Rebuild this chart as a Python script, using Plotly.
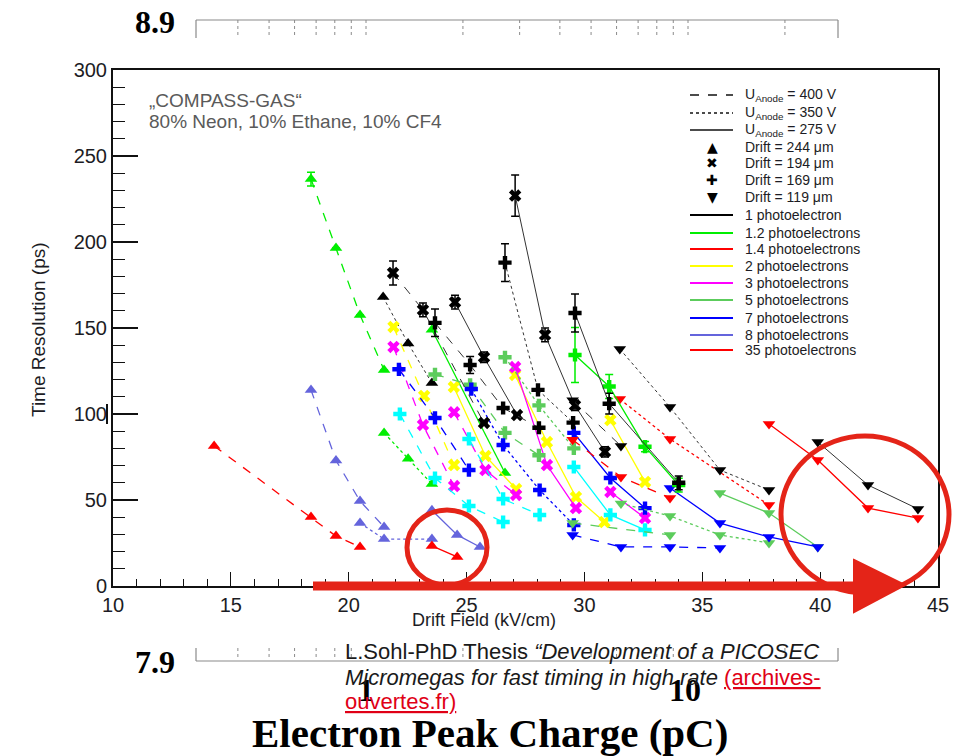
import math
import plotly.graph_objects as go

# ---------------- data ----------------
# Drift 244 um (triangle up)
t_grn_dash_x = [18.4, 19.46, 20.48, 21.5]
t_grn_dash_y = [236.6, 196.5, 157.6, 125.6]
t_grn_dash_e = [4, 0, 0, 0]
t_grn_dot_x = [21.5, 22.52, 23.53]
t_grn_dot_y = [89, 74, 59.3]
t_grn_sol_x = [23.53, 26.63]
t_grn_sol_y = [149, 65.7]
t_pur_dash_x = [18.4, 19.46, 20.48, 21.5]
t_pur_dash_y = [114, 73, 49.4, 34.3]
t_pur_dot_x = [20.48, 21.5, 23.53]
t_pur_dot_y = [36.6, 27.3, 27.3]
t_pur_sol_x = [23.53, 24.6, 25.57]
t_pur_sol_y = [44, 29.7, 22.7]
t_red_dash_x = [14.29, 18.4, 19.46, 20.48]
t_red_dash_y = [81.4, 40.1, 29, 22.7]
t_red_sol_x = [23.53, 24.6]
t_red_sol_y = [23.3, 16.9]
t_blk_dot_x = [21.46, 22.52, 23.53]
t_blk_dot_y = [168, 141, 118]

# Drift 194 um (x)
x_blk_dash_x = [21.88, 23.15, 25.74]
x_blk_dash_y = [182, 160.5, 94.8]
x_blk_dash_e = [7, 4, 0]
x_blk_sol1_x = [24.51, 25.74, 27.14]
x_blk_sol1_y = [165, 133, 99.4]
x_blk_sol1_e = [4, 3, 0]
x_blk_sol2_x = [27.06, 28.33, 29.6, 30.87]
x_blk_sol2_y = [227, 146, 105, 78]
x_blk_sol2_e = [12, 4, 3, 3]
x_yel_dash_x = [21.9, 23.2, 24.47]
x_yel_dash_y = [150.6, 110.5, 70.3]
x_yel_sol1_x = [24.46, 25.8, 27.1]
x_yel_sol1_y = [115.7, 75.6, 56.4]
x_yel_sol2_x = [27.06, 28.41, 29.64, 30.85]
x_yel_sol2_y = [122.7, 83.7, 51.7, 37.2]
x_yel_sol3_x = [31.1, 32.57]
x_yel_sol3_y = [96.5, 60.5]
x_mag_dash1_x = [21.9, 23.15, 24.47]
x_mag_dash1_y = [139, 93.6, 58.1]
x_mag_dash2_x = [24.47, 25.8, 27.1]
x_mag_dash2_y = [101, 67.4, 52.9]
x_mag_sol1_x = [27.06, 28.41, 29.64]
x_mag_sol1_y = [127.3, 70.3, 45.3]
x_mag_sol2_x = [31.1, 32.57]
x_mag_sol2_y = [54.7, 39.5]

# Drift 169 um (+)
p_blk_dash_x = [23.66, 25.15, 26.55, 28.07]
p_blk_dash_y = [153, 128.5, 103.5, 92]
p_blk_dash_e = [8, 5, 0, 0]
p_blk_dot_x = [26.63, 28.03, 29.52]
p_blk_dot_y = [188, 114, 95]
p_blk_dot_e = [11, 0, 0]
p_blk_sol_x = [29.6, 31.05, 34.0]
p_blk_sol_y = [158.7, 106, 60]
p_blk_sol_e = [11, 6, 4]
p_grn_sol_x = [29.6, 31.05, 32.57, 34.0]
p_grn_sol_y = [134.3, 116, 81, 58.7]
p_grn_sol_e = [16, 7, 3, 4]
p_mgr_dot_x = [26.63, 28.07, 29.55]
p_mgr_dot_y = [133, 105, 80]
p_mgr_dash_x = [23.66, 25.15, 26.63, 28.07]
p_mgr_dash_y = [123, 117, 89, 76]
p_blu_dash_x = [22.13, 23.66, 25.1]
p_blu_dash_y = [126, 97.7, 67.4]
p_blu_dot_x = [25.2, 26.55, 28.1, 29.55]
p_blu_dot_y = [114.5, 82, 55.8, 35.5]
p_blu_sol_x = [29.55, 31.1, 32.57]
p_blu_sol_y = [89, 62.8, 45.3]
p_cyn_dash1_x = [22.17, 23.66, 25.1, 26.55]
p_cyn_dash1_y = [100, 62.8, 46.5, 37.2]
p_cyn_dash2_x = [25.1, 26.55, 28.1]
p_cyn_dash2_y = [85.5, 50.6, 41.3]
p_cyn_sol_x = [29.55, 31.1, 32.57]
p_cyn_sol_y = [69.2, 41.3, 32.6]

# Drift 119 um (triangle down)
d_blk_dot_x = [31.5, 33.63, 35.75, 37.83]
d_blk_dot_y = [137.8, 104, 67.4, 55.8]
d_blk_sol_x = [39.9, 42.03, 44.15]
d_blk_sol_y = [83.7, 58.7, 44.8]
d_blk_dash_x = [29.5, 31.55]
d_blk_dash_y = [108, 81.4]
d_red_dot_x = [31.5, 33.63, 37.83]
d_red_dot_y = [108.7, 85.5, 47.1]
d_red_dash_x = [29.5, 31.55, 33.63]
d_red_dash_y = [85, 63.4, 51.2]
d_red_sol_x = [37.83, 39.9, 42.03, 44.15]
d_red_sol_y = [94.2, 73.3, 45.3, 39.5]
d_blu_sol_x = [33.63, 35.75, 37.83, 39.9]
d_blu_sol_y = [57, 36.6, 28.5, 22.7]
d_blu_dash_x = [29.5, 31.55, 33.63, 35.75]
d_blu_dash_y = [29.7, 22.7, 22.7, 22.1]
d_mgr_dot_x = [31.55, 33.63, 35.75, 37.83]
d_mgr_dot_y = [48, 40.7, 29.7, 25]
d_mgr_dash_x = [29.5, 33.63]
d_mgr_dash_y = [36.6, 29.7]
d_mgr_sol_x = [35.75, 37.83, 39.9]
d_mgr_sol_y = [54, 42.4, 22.7]

x_ticks = [10, 15, 20, 25, 30, 35, 40, 45]
y_ticks = [0, 50, 100, 150, 200, 250, 300]
legend_volt = ["U<sub>Anode</sub> = 400 V", "U<sub>Anode</sub> = 350 V", "U<sub>Anode</sub> = 275 V"]
legend_drift = ["Drift = 244 μm", "Drift = 194 μm", "Drift = 169 μm", "Drift = 119 μm"]
legend_pe = ["1 photoelectron", "1.2 photoelectrons", "1.4 photoelectrons", "2 photoelectrons",
             "3 photoelectrons", "5 photoelectrons", "7 photoelectrons", "8 photoelectrons",
             "35 photoelectrons"]
log_grid = [0.4, 0.5, 0.6, 0.7, 0.8, 0.9, 1, 2, 3, 4, 5, 6, 7, 8, 9, 10, 20]

# ---------------- styles ----------------
BLK = "#000000"; GRN = "#00ee00"; RED = "#ff0000"; YEL = "#ffff00"; MAG = "#ff00ff"
MGR = "#5ccc5c"; BLU = "#0000ff"; PUR = "#6464dc"; CYN = "#00ffff"
pe_colors = [BLK, GRN, RED, YEL, MAG, MGR, BLU, PUR, RED]

series = [
    (t_grn_dash_x, t_grn_dash_y, t_grn_dash_e, GRN, "triangle-up", "dash"),
    (t_grn_dot_x, t_grn_dot_y, None, GRN, "triangle-up", "dot"),
    (t_grn_sol_x, t_grn_sol_y, None, GRN, "triangle-up", "solid"),
    (t_pur_dash_x, t_pur_dash_y, None, PUR, "triangle-up", "dash"),
    (t_pur_dot_x, t_pur_dot_y, None, PUR, "triangle-up", "dot"),
    (t_pur_sol_x, t_pur_sol_y, None, PUR, "triangle-up", "solid"),
    (t_red_dash_x, t_red_dash_y, None, RED, "triangle-up", "dash"),
    (t_red_sol_x, t_red_sol_y, None, RED, "triangle-up", "solid"),
    (t_blk_dot_x, t_blk_dot_y, None, BLK, "triangle-up", "dot"),
    (x_yel_dash_x, x_yel_dash_y, None, YEL, "x", "dash"),
    (x_yel_sol1_x, x_yel_sol1_y, None, YEL, "x", "solid"),
    (x_yel_sol2_x, x_yel_sol2_y, None, YEL, "x", "solid"),
    (x_yel_sol3_x, x_yel_sol3_y, None, YEL, "x", "solid"),
    (x_mag_dash1_x, x_mag_dash1_y, None, MAG, "x", "dash"),
    (x_mag_dash2_x, x_mag_dash2_y, None, MAG, "x", "dash"),
    (x_mag_sol1_x, x_mag_sol1_y, None, MAG, "x", "solid"),
    (x_mag_sol2_x, x_mag_sol2_y, None, MAG, "x", "solid"),
    (p_mgr_dot_x, p_mgr_dot_y, None, MGR, "cross", "dot"),
    (p_mgr_dash_x, p_mgr_dash_y, None, MGR, "cross", "dash"),
    (p_blu_dash_x, p_blu_dash_y, None, BLU, "cross", "dash"),
    (p_blu_dot_x, p_blu_dot_y, None, BLU, "cross", "dot"),
    (p_blu_sol_x, p_blu_sol_y, None, BLU, "cross", "solid"),
    (p_cyn_dash1_x, p_cyn_dash1_y, None, CYN, "cross", "dash"),
    (p_cyn_dash2_x, p_cyn_dash2_y, None, CYN, "cross", "dash"),
    (p_cyn_sol_x, p_cyn_sol_y, None, CYN, "cross", "solid"),
    (d_mgr_dot_x, d_mgr_dot_y, None, MGR, "triangle-down", "dot"),
    (d_mgr_dash_x, d_mgr_dash_y, None, MGR, "triangle-down", "dash"),
    (d_mgr_sol_x, d_mgr_sol_y, None, MGR, "triangle-down", "solid"),
    (d_blu_sol_x, d_blu_sol_y, None, BLU, "triangle-down", "solid"),
    (d_blu_dash_x, d_blu_dash_y, None, BLU, "triangle-down", "dash"),
    (d_red_dot_x, d_red_dot_y, None, RED, "triangle-down", "dot"),
    (d_red_dash_x, d_red_dash_y, None, RED, "triangle-down", "dash"),
    (d_red_sol_x, d_red_sol_y, None, RED, "triangle-down", "solid"),
    (p_grn_sol_x, p_grn_sol_y, p_grn_sol_e, GRN, "cross", "solid"),
    (x_blk_dash_x, x_blk_dash_y, x_blk_dash_e, BLK, "x", "dash"),
    (x_blk_sol1_x, x_blk_sol1_y, x_blk_sol1_e, BLK, "x", "solid"),
    (x_blk_sol2_x, x_blk_sol2_y, x_blk_sol2_e, BLK, "x", "solid"),
    (p_blk_dash_x, p_blk_dash_y, p_blk_dash_e, BLK, "cross", "dash"),
    (p_blk_dot_x, p_blk_dot_y, p_blk_dot_e, BLK, "cross", "dot"),
    (p_blk_sol_x, p_blk_sol_y, p_blk_sol_e, BLK, "cross", "solid"),
    (d_blk_dot_x, d_blk_dot_y, None, BLK, "triangle-down", "dot"),
    (d_blk_sol_x, d_blk_sol_y, None, BLK, "triangle-down", "solid"),
    (d_blk_dash_x, d_blk_dash_y, None, BLK, "triangle-down", "dash"),
]

fig = go.Figure()
for xs, ys, es, col, sym, dash in series:
    lw = 1.0 if col == BLK else 1.3
    lcol = "#333333" if col == BLK else col
    tr = go.Scatter(x=xs, y=ys, mode="lines+markers",
                    line=dict(color=lcol, width=lw, dash=dash),
                    marker=dict(symbol=sym, size=11, color=col, line=dict(width=0)),
                    hoverinfo="x+y")
    if es is not None:
        tr.error_y = dict(type="data", array=es, color=col, thickness=1.5, width=4)
    fig.add_trace(tr)

# ---------------- layout ----------------
L, R, T, B = 113, 938, 70, 586
W, H = 968, 756
def X(px):
    return (px - L) / (R - L)
def Y(py):
    return (B - py) / (B - T)

SANS = "Liberation Sans, Arial, sans-serif"
SERIF = "Liberation Serif, Times New Roman, serif"
TXT = "#1c1c24"

fig.update_layout(
    width=W, height=H, showlegend=False,
    margin=dict(l=L, r=W - R, t=T, b=H - B, pad=0),
    paper_bgcolor="white", plot_bgcolor="white",
    xaxis=dict(range=[10, 45], tickmode="array", tickvals=x_ticks,
               ticks="inside", ticklen=14, tickwidth=1.3, tickcolor="#111",
               minor=dict(dtick=1, ticks="inside", ticklen=7, tickwidth=1, tickcolor="#111"),
               showline=True, linecolor="#111", linewidth=1.5, mirror=True,
               showgrid=False, zeroline=False,
               tickfont=dict(family=SANS, size=20, color=TXT)),
    yaxis=dict(range=[0, 300], tickmode="array", tickvals=y_ticks,
               ticks="inside", ticklen=25, tickwidth=1.5, tickcolor="#111",
               minor=dict(dtick=10, ticks="inside", ticklen=12, tickwidth=1.2, tickcolor="#111"),
               showline=True, linecolor="#111", linewidth=2, mirror=True,
               showgrid=False, zeroline=False,
               tickfont=dict(family=SANS, size=20, color=TXT)),
)

ann = []
shapes = []
def text(px, py, s, size, family=SANS, color=TXT, xa="left", ya="middle", angle=0):
    ann.append(dict(x=X(px), y=Y(py), xref="paper", yref="paper", text=s, showarrow=False,
                    xanchor=xa, yanchor=ya, textangle=angle,
                    font=dict(family=family, size=size, color=color)))
def line(x0, y0, x1, y1, color, width, dash="solid"):
    shapes.append(dict(type="line", xref="paper", yref="paper",
                       x0=X(x0), y0=Y(y0), x1=X(x1), y1=Y(y1),
                       line=dict(color=color, width=width, dash=dash)))

# axis titles
text(484, 620, "Drift Field (kV/cm)", 18, xa="center")
text(38, 330, "Time Resolution (ps)", 19, xa="center", angle=-90)

# in-plot labels
text(147, 100, "„COMPASS-GAS“", 19, color="#5a5a5a")
text(147, 122, "80% Neon, 10% Ethane, 10% CF4", 19, color="#5a5a5a")

# legend
rows_v = [95, 113, 130]
for ry, lab, dsh in zip(rows_v, legend_volt, ["dash", "dot", "solid"]):
    line(690, ry, 733, ry, "#111", 1.4, dsh)
    text(743, ry, lab, 14)
rows_d = [147, 163, 180, 197]
for ry, lab, g in zip(rows_d, legend_drift, ["▲", "✖", "✚", "▼"]):
    text(712, ry, g, 14, family="DejaVu Sans", color="#000", xa="center")
    text(743, ry, lab, 14)
rows_p = [215, 233, 249, 266, 283, 300, 318, 335, 350]
for ry, lab, c in zip(rows_p, legend_pe, pe_colors):
    line(690, ry, 733, ry, c, 2)
    text(743, ry, lab, 14)

# overlay of another figure
for yy0, yy1, ytop in [(20, 38, True), (648, 661, False)]:
    yl = yy0 if ytop else yy1
    line(196, yl, 838, yl, "#8a8a8a", 1.2)
    line(196, yy0, 196, yy1, "#8a8a8a", 1.2)
    line(838, yy0, 838, yy1, "#8a8a8a", 1.2)
    for v in log_grid:
        gx = 366 + 322 * math.log10(v)
        line(gx, yy0, gx, yy1 - 1, "#8a8a8a", 1, "dot")
text(155, 22, "<b>8.9</b>", 32, family=SERIF, color="#000", xa="center")
text(155, 662, "<b>7.9</b>", 32, family=SERIF, color="#000", xa="center")
text(366, 690, "<b>1</b>", 32, family=SERIF, color="#000", xa="center")
text(685, 690, "<b>10</b>", 32, family=SERIF, color="#000", xa="center")
text(490, 733, "<b>Electron Peak Charge (pC)</b>", 41, family=SERIF, color="#000", xa="center")

# citation
LINK = "#e00016"
text(343, 651, "L.Sohl-PhD Thesis <i>“Development of a PICOSEC</i>", 22, color="#1a1a1a")
text(343, 677, "<i>Micromegas for fast timing in high rate</i> <span style='color:%s'><u>(archives-</u></span>" % LINK, 22, color="#1a1a1a")
text(343, 701, "<span style='color:%s'><u>ouvertes.fr)</u></span>" % LINK, 22, color=LINK)

# small artifact next to the 100 label
line(107, 404, 107, 424, "#111", 2)

# red hand-drawn annotations
RC = "#e42418"
shapes.append(dict(type="circle", xref="paper", yref="paper",
                   x0=X(407), x1=X(487), y0=Y(585), y1=Y(510),
                   line=dict(color=RC, width=5)))
shapes.append(dict(type="circle", xref="paper", yref="paper",
                   x0=X(781), x1=X(949), y0=Y(593), y1=Y(436),
                   line=dict(color=RC, width=5)))
line(313, 586, 870, 586, RC, 9)
shapes.append(dict(type="path", xref="paper", yref="paper",
                   path="M %f,%f L %f,%f L %f,%f Z" % (X(854), Y(560), X(905), Y(585), X(854), Y(612)),
                   fillcolor=RC, line=dict(color=RC, width=2)))

fig.update_layout(annotations=ann, shapes=shapes)
fig.write_html("out.html")
